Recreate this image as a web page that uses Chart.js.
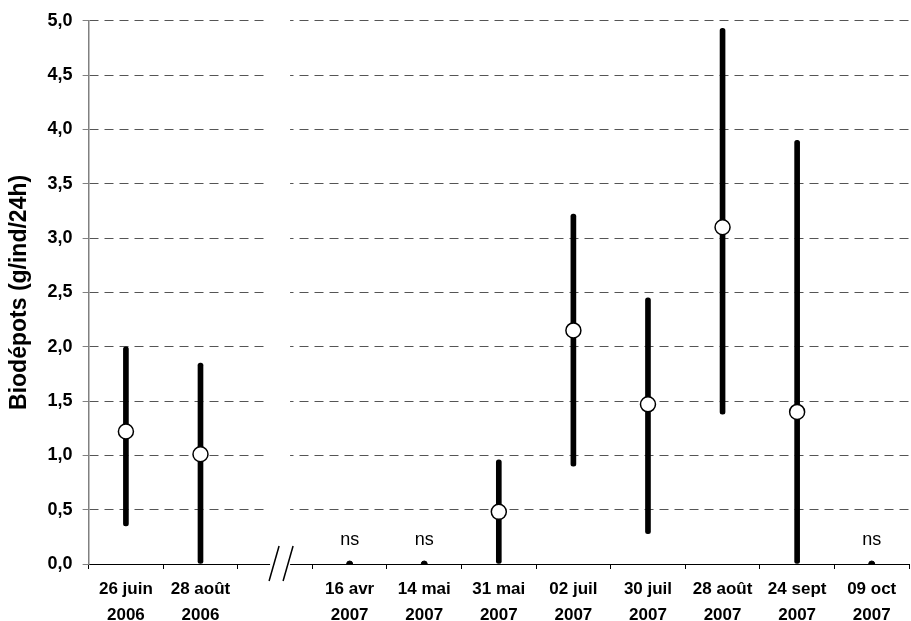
<!DOCTYPE html>
<html>
<head>
<meta charset="utf-8">
<script src="https://cdn.jsdelivr.net/npm/chart.js@4.4.1/dist/chart.umd.min.js"></script>
<style>
  html, body { margin: 0; padding: 0; background: #fff; overflow: hidden; }
  #wrap { width: 918px; height: 621px; overflow: hidden; }
</style>
</head>
<body>
<div id="wrap"><canvas id="chart" width="918" height="636"></canvas></div>
<script>
// === Données ===
const dates = [
  ['26 juin', '2006'], ['28 août', '2006'], '',
  ['16 avr', '2007'], ['14 mai', '2007'], ['31 mai', '2007'], ['02 juil', '2007'],
  ['30 juil', '2007'], ['28 août', '2007'], ['24 sept', '2007'], ['09 oct', '2007']
];
const moyennes  = [1.22, 1.01, null, null, null, 0.48, 2.15, 1.47, 3.10, 1.40, null];
const minimums  = [0.35, 0.00, null, null, null, 0.00, 0.90, 0.28, 1.38, 0.00, null];
const maximums  = [2.00, 1.85, null, null, null, 0.96, 3.22, 2.45, 4.93, 3.90, null];
const nonSignif = [null, null, null, 0, 0, null, null, null, null, null, 0];
const yMin = 0;
const yMax = 5;
const yPas = 0.5;
const indexCoupure = 2; // catégorie vide où l'axe est coupé

const police = "'Liberation Sans', Arial, sans-serif";

// barres min-max (flottantes)
const intervalles = minimums.map((m, i) => (m === null ? null : [m, maximums[i]]));

// === Plugin : "ns" au-dessus des points non significatifs ===
const etiquettesNs = {
  id: 'etiquettesNs',
  afterDatasetsDraw(chart) {
    const { ctx, scales: { x, y } } = chart;
    ctx.save();
    ctx.font = '18px ' + police;
    ctx.fillStyle = '#000';
    ctx.textAlign = 'center';
    ctx.textBaseline = 'bottom';
    nonSignif.forEach((v, i) => {
      if (v === null) return;
      ctx.fillText('ns', x.getPixelForValue(i), y.getPixelForValue(v) - 15);
    });
    ctx.restore();
  }
};

// === Plugin : coupure de l'axe "//" ===
const coupureAxe = {
  id: 'coupureAxe',
  afterDraw(chart) {
    const { ctx, chartArea, scales: { x } } = chart;
    const cx = x.getPixelForValue(indexCoupure);
    const bas = chartArea.bottom;
    ctx.save();
    ctx.fillStyle = '#fff';
    // trou dans les lignes de grille
    ctx.fillRect(cx - 11, chartArea.top - 2, 26, bas - chartArea.top - 1);
    // trou dans l'axe
    ctx.fillRect(cx - 5, bas - 2, 20, 5);
    ctx.strokeStyle = '#000';
    ctx.lineWidth = 1.5;
    [-1, 13].forEach(dx => {
      ctx.beginPath();
      ctx.moveTo(cx + dx - 5, bas + 17);
      ctx.lineTo(cx + dx + 5, bas - 18);
      ctx.stroke();
    });
    ctx.restore();
  }
};

new Chart(document.getElementById('chart'), {
  type: 'bar',
  data: {
    labels: dates,
    datasets: [
      {
        label: 'Intervalle',
        data: intervalles,
        backgroundColor: '#000',
        borderWidth: 0,
        barThickness: 5,
        borderRadius: 2.5,
        borderSkipped: false,
        order: 3
      },
      {
        type: 'line',
        label: 'Moyenne',
        data: moyennes,
        showLine: false,
        pointRadius: 7.5,
        pointBackgroundColor: '#fff',
        pointBorderColor: '#000',
        pointBorderWidth: 1.5,
        order: 1
      },
      {
        type: 'line',
        label: 'ns',
        data: nonSignif,
        showLine: false,
        pointRadius: 3,
        pointBackgroundColor: '#000',
        pointBorderColor: '#000',
        pointBorderWidth: 1,
        order: 2
      }
    ]
  },
  options: {
    responsive: false,
    animation: false,
    layout: { padding: { top: 8, right: 1, left: 2, bottom: 0 } },
    plugins: {
      legend: { display: false },
      tooltip: { enabled: false }
    },
    scales: {
      x: {
        offset: true,
        grid: {
          display: true,
          offset: true,
          drawOnChartArea: false,
          drawTicks: true,
          tickLength: 5,
          tickColor: '#000'
        },
        border: { display: true, color: '#000', width: 1 },
        ticks: {
          autoSkip: false,
          maxRotation: 0,
          padding: 8,
          color: '#000',
          font: { family: police, size: 17, weight: 'bold', lineHeight: 1.5 }
        }
      },
      y: {
        min: yMin,
        max: yMax,
        grid: {
          color: ctx => (ctx.tick && ctx.tick.value === 0 ? 'rgba(0,0,0,0)' : '#555'),
          lineWidth: 1,
          tickLength: 6,
          tickColor: '#808080'
        },
        border: { display: true, color: '#808080', width: 1.5, dash: [9, 6] },
        ticks: {
          stepSize: yPas,
          padding: 10,
          color: '#000',
          font: { family: police, size: 18, weight: 'bold' },
          callback: v => v.toFixed(1).replace('.', ',')
        },
        title: {
          display: true,
          text: 'Biodépots (g/ind/24h)',
          color: '#000',
          font: { family: police, size: 23, weight: 'bold' },
          padding: { top: 4, bottom: 4 }
        }
      }
    }
  },
  plugins: [etiquettesNs, coupureAxe]
});
</script>
</body>
</html>
